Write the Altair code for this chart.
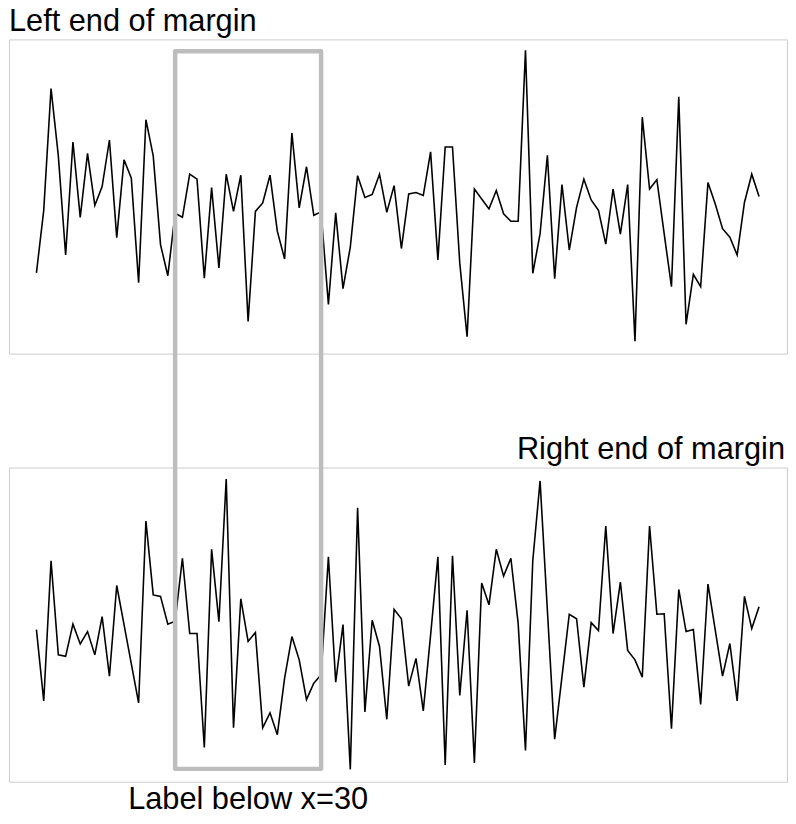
import altair as alt
import pandas as pd

x_vals = list(range(1, 101))

top_vals = [
    -1.54, -0.28, 2.18, 0.82, -1.18, 1.10, -0.42, 0.87, -0.18, 0.20,
    1.14, -0.83, 0.74, 0.37, -1.74, 1.55, 0.82, -0.97, -1.60, -0.34,
    -0.42, 0.45, 0.35, -1.65, 0.18, -1.44, 0.45, -0.30, 0.43, -2.52,
    -0.30, -0.13, 0.43, -0.70, -1.26, 1.28, -0.23, 0.60, -0.38, -0.31,
    -2.18, -0.33, -1.86, -1.02, 0.42, -0.02, 0.04, 0.45, -0.32, 0.22,
    -1.05, 0.05, 0.08, 0.02, 0.90, -1.28, 1.00, 1.00, -1.35, -2.83,
    0.15, -0.05, -0.25, 0.12, -0.35, -0.50, -0.50, 2.95, -1.55, -0.75,
    0.83, -1.66, 0.24, -1.08, -0.22, 0.35, -0.07, -0.28, -0.96, 0.15,
    -0.76, 0.24, -2.92, 1.60, 0.15, 0.34, -0.75, -1.82, 2.01, -2.58,
    -1.57, -1.82, 0.28, -0.15, -0.65, -0.82, -1.18, -0.12, 0.45, 0.00,
]

bottom_vals = [
    -0.10, -1.54, 1.29, -0.61, -0.64, 0.01, -0.39, -0.14, -0.61, 0.16,
    -1.04, 0.79, 0.00, -0.79, -1.58, 2.09, 0.60, 0.57, 0.01, 0.07,
    1.34, -0.18, -0.18, -2.48, 1.52, 0.06, 2.94, -2.08, 0.52, -0.34,
    -0.16, -2.08, -1.78, -2.22, -1.08, -0.24, -0.71, -1.51, -1.18, -1.01,
    1.37, -1.16, 0.00, -2.92, 2.36, -1.76, 0.09, -0.44, -1.91, 0.31,
    0.12, -1.24, -0.68, -1.74, -0.21, 1.37, -2.83, 1.39, -1.43, 0.29,
    -2.79, 0.84, 0.40, 1.52, 0.98, 1.34, 0.02, -2.54, 1.29, 2.90,
    0.29, -2.31, -1.05, 0.21, 0.12, -1.26, 0.04, -0.12, 1.99, -0.18,
    0.86, -0.52, -0.71, -1.06, 1.99, 0.21, 0.22, -2.10, 0.71, -0.14,
    -0.10, -1.61, 0.82, -0.11, -1.04, -0.38, -1.54, 0.57, -0.08, 0.36,
]

box_x_start = [20]
box_x_end = [40]
label_x = [30]
label_text = ["Label below x=30"]
top_title = ["Left end of margin"]
bottom_title = ["Right end of margin"]

W, H = 785, 317
FONT = "Liberation Sans"
FS = 31

top_df = pd.DataFrame({"x": x_vals, "y": top_vals})
bot_df = pd.DataFrame({"x": x_vals, "y": bottom_vals})
box_df = pd.DataFrame({"x0": box_x_start, "x1": box_x_end})
label_df = pd.DataFrame({"x": label_x, "text": label_text})
ttl_top_df = pd.DataFrame({"t": top_title})
ttl_bot_df = pd.DataFrame({"t": bottom_title})

xscale = alt.Scale(domain=[-2.76, 103.83], nice=False, zero=False)
yscale = alt.Scale(domain=[-3.17, 3.17], nice=False, zero=False)

text_style = dict(fontSize=FS, font=FONT, baseline="alphabetic", color="black")

top_line = alt.Chart(top_df).mark_line(color="black", strokeWidth=1.6).encode(
    x=alt.X("x:Q", scale=xscale, axis=None),
    y=alt.Y("y:Q", scale=yscale, axis=None),
)
top_ttl = alt.Chart(ttl_top_df).mark_text(align="left", **text_style).encode(
    x=alt.value(0), y=alt.value(-8), text="t:N"
)
top = alt.layer(top_line, top_ttl).properties(width=W, height=H)

bottom_line = alt.Chart(bot_df).mark_line(color="black", strokeWidth=1.6).encode(
    x=alt.X("x:Q", scale=xscale, axis=None),
    y=alt.Y("y:Q", scale=yscale, axis=None),
)

box = alt.Chart(box_df).mark_rect(
    filled=False, color="#bdbdbd", strokeWidth=4.5, strokeJoin="round"
).encode(
    x=alt.X("x0:Q", scale=xscale, axis=None),
    x2="x1:Q",
    y=alt.value(-420),
    y2=alt.value(304),
)

label = alt.Chart(label_df).mark_text(align="center", **text_style).encode(
    x=alt.X("x:Q", scale=xscale, axis=None),
    y=alt.value(H + 27),
    text="text:N",
)

bot_ttl = alt.Chart(ttl_bot_df).mark_text(align="right", **text_style).encode(
    x=alt.value(W - 2), y=alt.value(-9), text="t:N"
)

bottom = alt.layer(bottom_line, box, label, bot_ttl).properties(width=W, height=H)

chart = alt.vconcat(top, bottom, spacing=115, bounds="flush").properties(
    padding={"left": 0, "top": -6, "right": 0, "bottom": 10}
).configure_view(stroke="#cccccc", strokeWidth=1)

chart.save("out.html", embed_options={"renderer": "svg", "actions": False})
